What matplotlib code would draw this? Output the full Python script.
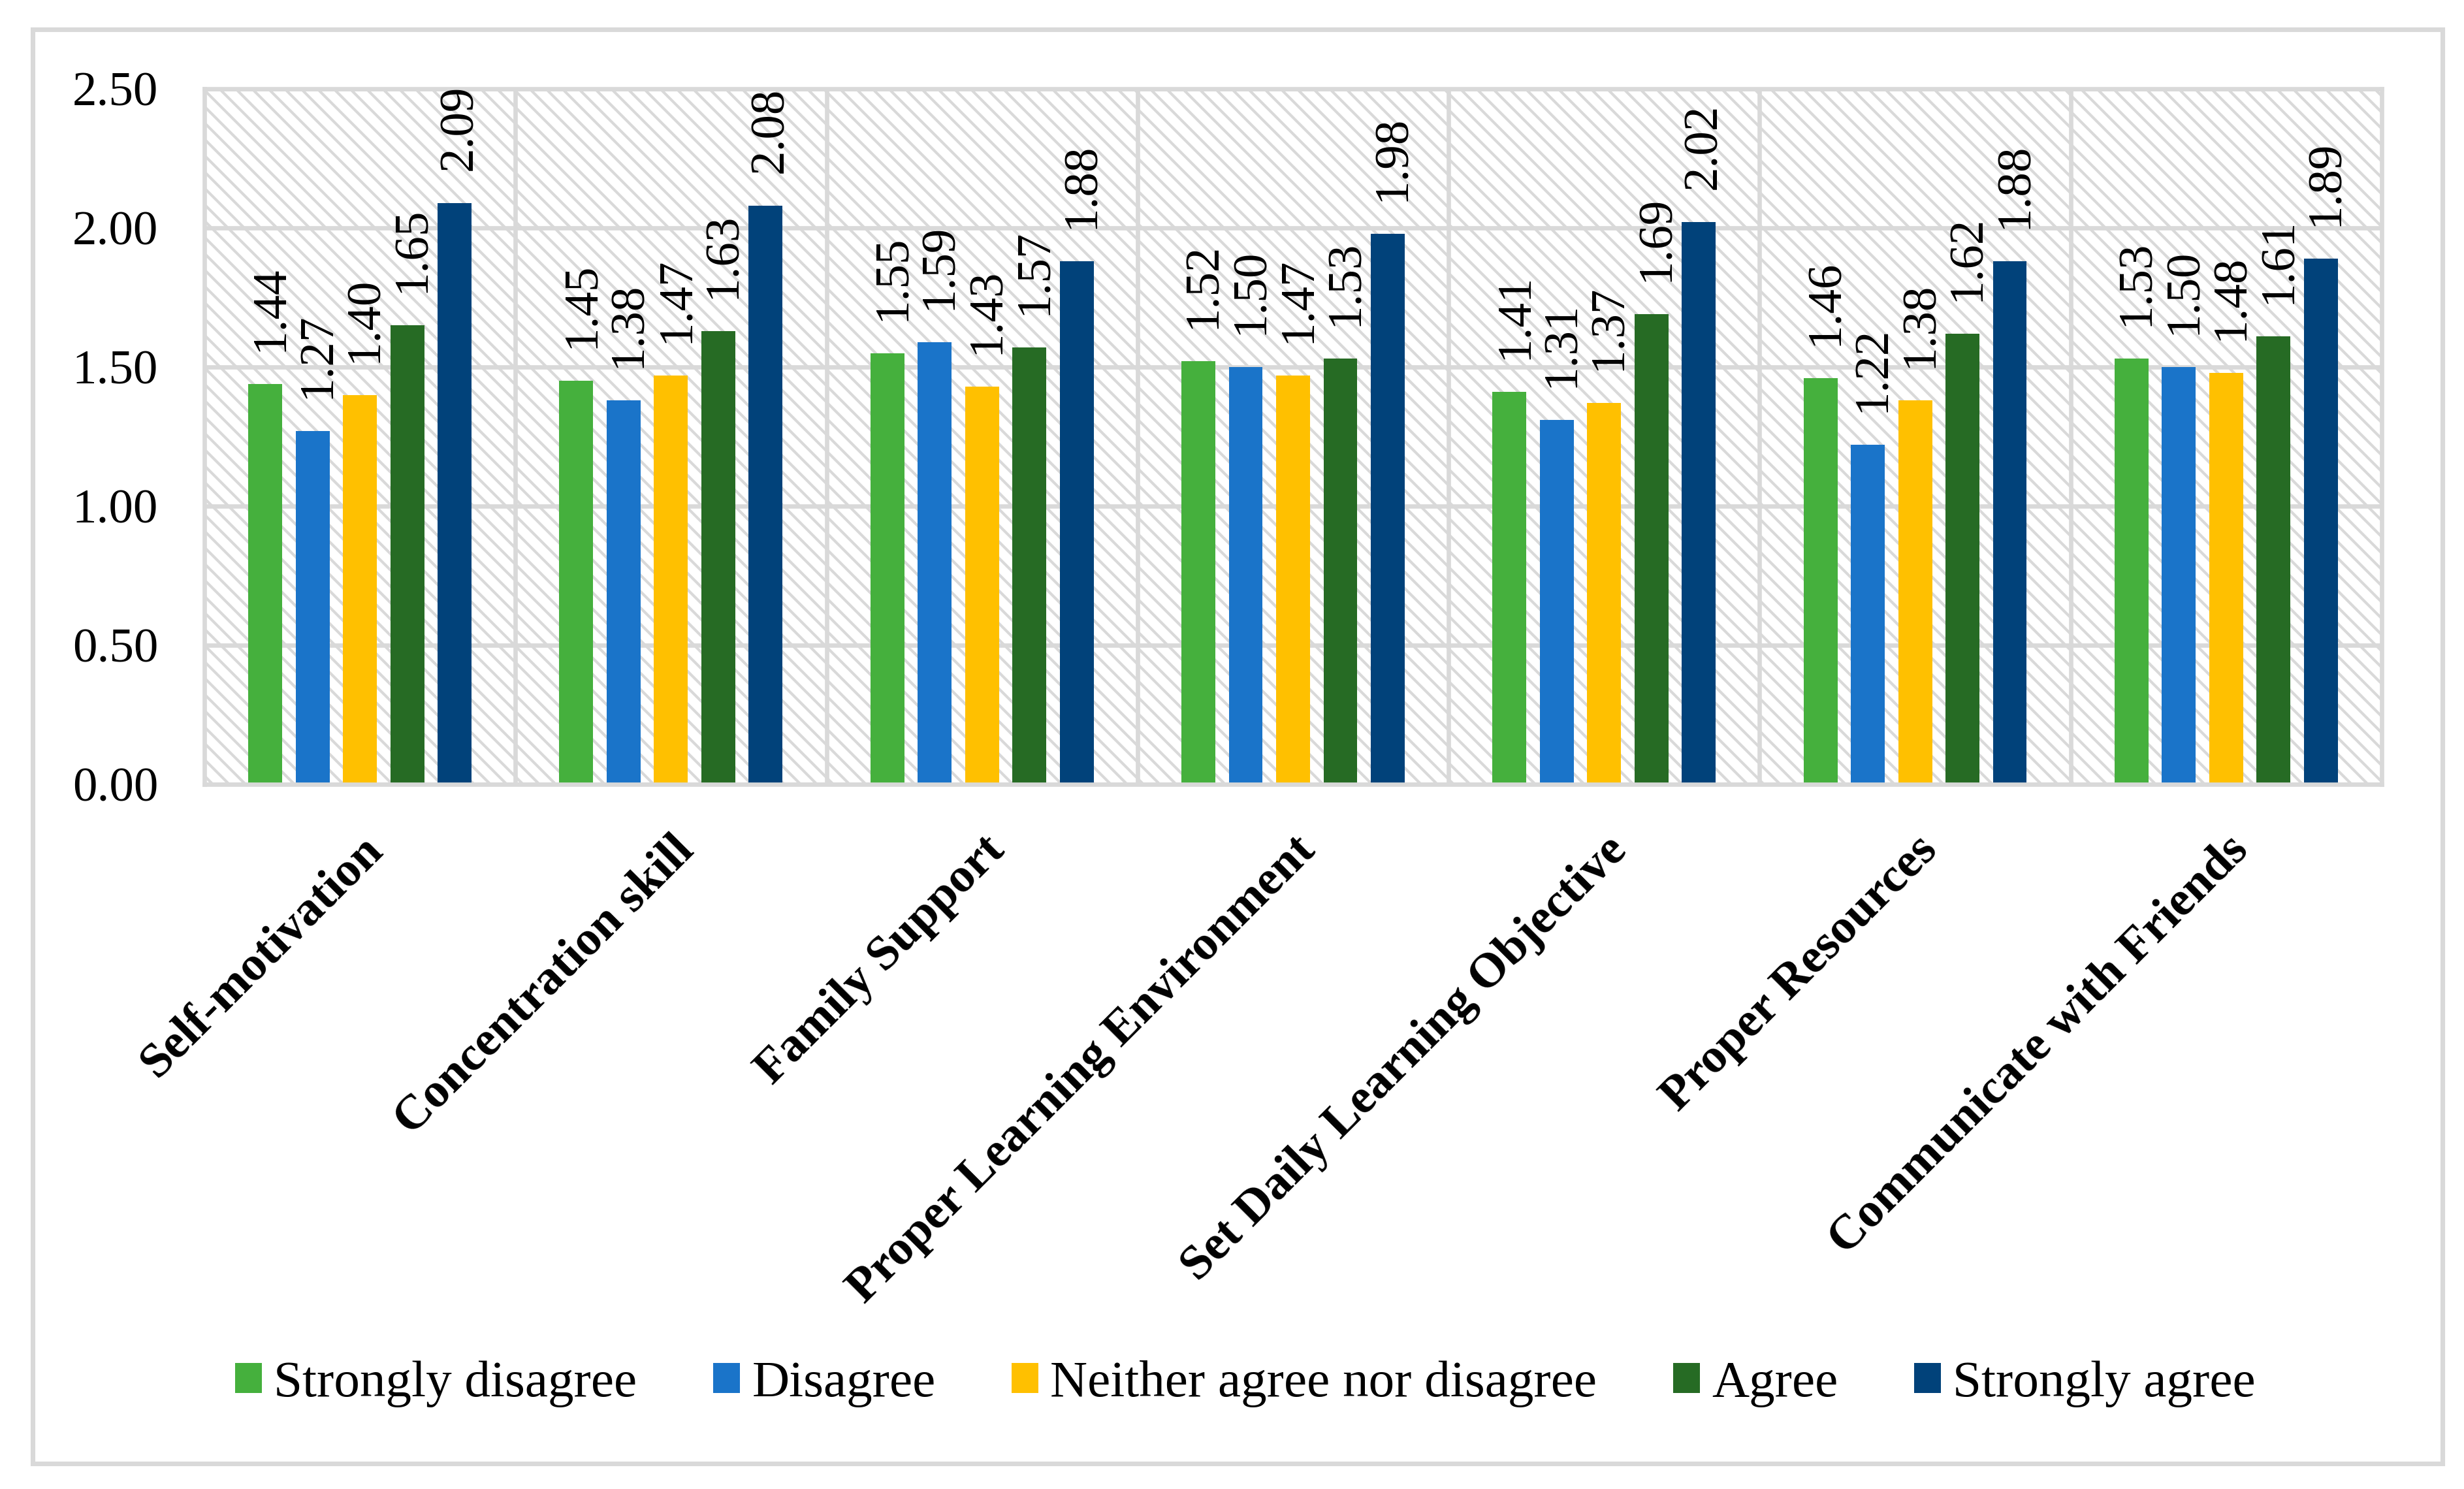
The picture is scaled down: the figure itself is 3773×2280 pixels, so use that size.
import numpy as np
import matplotlib
matplotlib.use("Agg")
import matplotlib.pyplot as plt
from matplotlib.patches import Rectangle

# ── Data ──────────────────────────────────────────────────────────────────
categories = ["Self-motivation", "Concentration skill", "Family Support",
              "Proper Learning Environment", "Set Daily Learning Objective",
              "Proper Resources", "Communicate with Friends"]
series_names = ["Strongly disagree", "Disagree", "Neither agree nor disagree",
                "Agree", "Strongly agree"]
strongly_disagree = [1.44, 1.45, 1.55, 1.52, 1.41, 1.46, 1.53]
disagree          = [1.27, 1.38, 1.59, 1.50, 1.31, 1.22, 1.50]
neither           = [1.40, 1.47, 1.43, 1.47, 1.37, 1.38, 1.48]
agree             = [1.65, 1.63, 1.57, 1.53, 1.69, 1.62, 1.61]
strongly_agree    = [2.09, 2.08, 1.88, 1.98, 2.02, 1.88, 1.89]
y_ticks = [0.0, 0.5, 1.0, 1.5, 2.0, 2.5]

# ── Style ─────────────────────────────────────────────────────────────────
colors = ["#45B03D", "#1A74C9", "#FFC000", "#266B24", "#01427A"]
GRID = "#D9D9D9"
plt.rcParams["font.family"] = ["Liberation Serif", "DejaVu Serif"]
plt.rcParams["hatch.linewidth"] = 1.0

series = [strongly_disagree, disagree, neither, agree, strongly_agree]

fig = plt.figure(figsize=(3773 / 300, 2280 / 300), dpi=300)
ax = fig.add_axes([0.08296, 0.47325, 0.96660 - 0.08296, 0.94035 - 0.47325])

# hatched plot-area background
ax.add_patch(Rectangle((0, 0), 1, 1, transform=ax.transAxes, facecolor="white",
                       edgecolor=GRID, hatch="\\\\\\\\", linewidth=0, zorder=0.1))

x = np.arange(len(categories))
step, width = 0.1522, 0.109
for i, (vals, name, col) in enumerate(zip(series, series_names, colors)):
    pos = x + (i - 2) * step
    bars = ax.bar(pos, vals, width=width, color=col, label=name, zorder=2)
    for xp, v in zip(pos, vals):
        ax.annotate(f"{v:.2f}", (xp, v), xytext=(2, 12), textcoords="offset points",
                    rotation=90, ha="center", va="bottom", fontsize=18, zorder=3)

ax.set_xlim(-0.5, len(categories) - 0.5)
ax.set_ylim(0, 2.5)
ax.set_yticks(y_ticks)
ax.set_yticklabels([f"{t:.2f}" for t in y_ticks], fontsize=18)
ax.set_xticks(x)
ax.set_xticklabels(categories, fontsize=18, fontweight="bold", rotation=45,
                   ha="right", rotation_mode="anchor")
ax.tick_params(axis="y", length=0, pad=17)
ax.tick_params(axis="x", length=0, pad=16)

# grid lines: horizontal at ticks, vertical between categories
ax.set_axisbelow(True)
ax.yaxis.grid(True, color=GRID, linewidth=1.6)
for b in np.arange(0.5, len(categories) - 0.5, 1.0):
    ax.axvline(b, color=GRID, linewidth=1.6, zorder=0.5)
for s in ax.spines.values():
    s.set_color(GRID)
    s.set_linewidth(1.6)

fig.legend(loc="center", bbox_to_anchor=(0.5054, 0.0706), ncol=5, frameon=False,
           fontsize=19, handlelength=0.52, handleheight=0.53, handletextpad=0.23,
           columnspacing=1.47)

# outer chart border
fig.patches.append(Rectangle((0.01325, 0.0171), 0.978, 0.9632, transform=fig.transFigure,
                             fill=False, edgecolor=GRID, linewidth=1.7))

fig.savefig("out.png", dpi=300)
